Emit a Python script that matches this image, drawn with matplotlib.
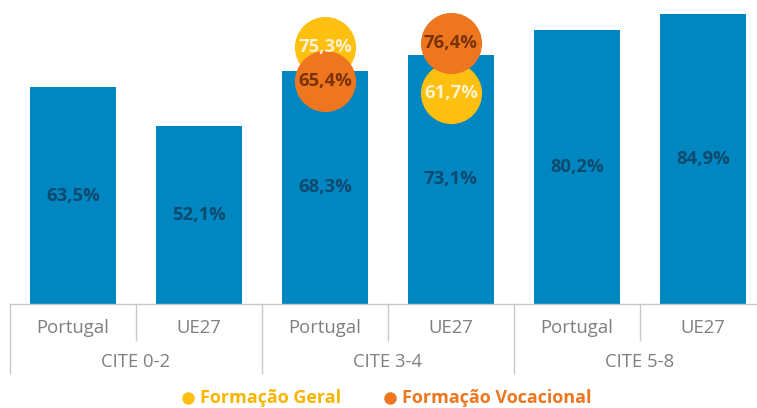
import matplotlib
matplotlib.use('Agg')
import matplotlib.pyplot as plt
from matplotlib.lines import Line2D
import matplotlib.transforms as mtransforms
import numpy as np

# data
groups = ['CITE 0-2', 'CITE 3-4', 'CITE 5-8']
subcats = ['Portugal', 'UE27', 'Portugal', 'UE27', 'Portugal', 'UE27']
totals = [63.5, 52.1, 68.3, 73.1, 80.2, 84.9]
geral = [np.nan, np.nan, 75.3, 61.7, np.nan, np.nan]
vocacional = [np.nan, np.nan, 65.4, 76.4, np.nan, np.nan]
legend_labels = ['Formação Geral', 'Formação Vocacional']

BLUE = '#0086C1'
YELLOW = '#FDBF10'
ORANGE = '#EE761E'
GREY = '#7F7F7F'
LINE = '#C8C8C8'

plt.rcParams['font.family'] = ['Open Sans', 'DejaVu Sans']


def pct(v):
    return f"{v:.1f}%".replace('.', ',')


W, H = 757, 408
fig = plt.figure(figsize=(W / 100, H / 100), dpi=100)
base_y = 304
ax = fig.add_axes([10 / W, 1 - base_y / H, 756 / W, base_y / H])

x = np.arange(len(totals))
ax.bar(x, totals, width=0.675, color=BLUE, zorder=1)
for xi, v in zip(x, totals):
    ax.text(xi, v / 2, pct(v), ha='center', va='center', fontsize=13.3,
            fontweight='bold', color='#0E4A6E', zorder=2)

# circles for the two training types
ax.plot(x, geral, 'o', ms=44, color=YELLOW, mec='none', zorder=3, clip_on=False)
ax.plot(x, vocacional, 'o', ms=44, color=ORANGE, mec='none', zorder=4, clip_on=False)
for xi, v in zip(x, geral):
    if not np.isnan(v):
        ax.text(xi, v, pct(v), ha='center', va='center', fontsize=13.3,
                fontweight='bold', color='#FFF2CC', zorder=5)
for xi, v in zip(x, vocacional):
    if not np.isnan(v):
        ax.text(xi, v, pct(v), ha='center', va='center', fontsize=13.3,
                fontweight='bold', color='#7A3209', zorder=5)

ax.set_xlim(-0.5, len(totals) - 0.5)
ax.set_ylim(0, 89.1)
ax.axis('off')

# two-level category axis
tr = mtransforms.blended_transform_factory(ax.transData, fig.transFigure)
y0 = 1 - base_y / H
y1 = 1 - 340 / H
y2 = 1 - 373 / H
ax.plot([-0.5, len(totals) - 0.5], [y0, y0], color=LINE, lw=1, transform=tr, clip_on=False)
for b in np.arange(-0.5, len(totals), 1.0):
    bottom = y2 if int(b + 0.5) % 2 == 0 else y1
    ax.plot([b, b], [y0, bottom], color=LINE, lw=1, transform=tr, clip_on=False)
for xi, s in zip(x, subcats):
    ax.text(xi, 1 - 328 / H, s, ha='center', va='center', fontsize=13.3,
            color=GREY, transform=tr)
for i, g in enumerate(groups):
    ax.text(2 * i + 0.5, 1 - 362 / H, g, ha='center', va='center', fontsize=13.3,
            color=GREY, transform=tr)

# legend
ly = 1 - 398 / H
for px, label, col, tcol in [(188, legend_labels[0], YELLOW, '#F9B500'),
                             (390, legend_labels[1], ORANGE, '#EE761E')]:
    fig.add_artist(Line2D([px / W], [ly], marker='o', ms=9, color=col, mec='none',
                          transform=fig.transFigure))
    fig.text((px + 12) / W, ly, label, ha='left', va='center', fontsize=13,
             fontweight='bold', color=tcol)

fig.savefig('out.png', dpi=100)
